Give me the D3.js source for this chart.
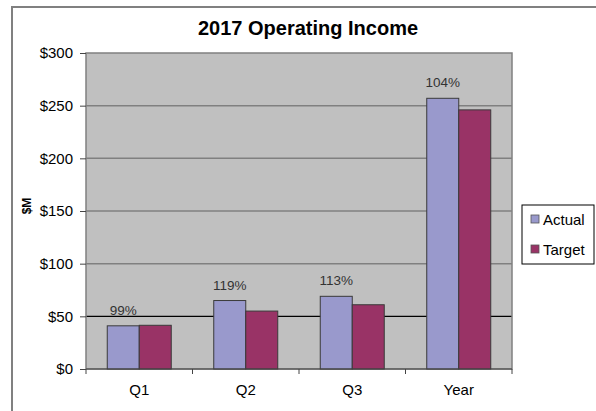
<!DOCTYPE html>
<html>
<head>
<meta charset="utf-8">
<script src="https://cdn.jsdelivr.net/npm/d3@7"></script>
<style>
  body { margin: 0; background: #fff; }
  svg { display: block; font-family: Arial, "Liberation Sans", sans-serif; }
</style>
</head>
<body>
<svg id="chart" width="596" height="411"></svg>
<script>
"use strict";

// values ($M)
var categories = ["Q1", "Q2", "Q3", "Year"];
var seriesNames = ["Actual", "Target"];
var actual = [41, 65, 69, 257];
var target = [41.5, 55, 61, 246];
var pctLabels = ["99%", "119%", "113%", "104%"];
var yTicks = [0, 50, 100, 150, 200, 250, 300];

var colors = { Actual: "#9999cc", Target: "#993366" };

(function draw_chart()
{
	var svg = d3.select("#chart");
	var plotLeft = 86, plotRight = 512, plotTop = 53, plotBottom = 369;

	// outer frame
	svg.append("rect")
		.attr("x", 12).attr("y", 7).attr("width", 600).attr("height", 420)
		.attr("fill", "#fff").attr("stroke", "#808080").attr("stroke-width", 2);

	// title
	svg.append("text")
		.attr("x", 308).attr("y", 35)
		.attr("text-anchor", "middle")
		.attr("font-size", 20).attr("font-weight", "bold")
		.text("2017 Operating Income");

	var x0 = d3.scaleBand().domain(categories).range([plotLeft, plotRight]).padding(0);
	var x1 = d3.scaleBand().domain(seriesNames).range([0, 64]);
	var y = d3.scaleLinear().domain([0, 300]).range([plotBottom, plotTop]);

	// plot area
	svg.append("rect")
		.attr("x", plotLeft).attr("y", plotTop)
		.attr("width", plotRight - plotLeft).attr("height", plotBottom - plotTop)
		.attr("fill", "#c0c0c0");

	// gridlines (the $50 one is black)
	svg.append("g").selectAll("line")
		.data(yTicks.filter(function(d){ return d > 0 && d < 300; })).enter()
		.append("line")
			.attr("x1", plotLeft).attr("x2", plotRight)
			.attr("y1", function(d){ return y(d); })
			.attr("y2", function(d){ return y(d); })
			.attr("stroke", function(d){ return d == 50 ? "#000" : "#808080"; })
			.attr("stroke-width", function(d){ return d == 50 ? 1.2 : 1.5; });

	// plot border
	svg.append("rect")
		.attr("x", plotLeft).attr("y", plotTop)
		.attr("width", plotRight - plotLeft).attr("height", plotBottom - plotTop)
		.attr("fill", "none").attr("stroke", "#808080").attr("stroke-width", 1.5);

	// bars
	var rows = categories.map(function(c, i){
		return { cat: c, values: [{ s: "Actual", v: actual[i] }, { s: "Target", v: target[i] }], label: pctLabels[i] };
	});
	var offset = (x0.bandwidth() - 64) / 2;

	var groups = svg.append("g").selectAll("g")
		.data(rows).enter()
		.append("g")
			.attr("transform", function(d){ return "translate(" + (x0(d.cat) + offset) + ",0)"; });

	groups.selectAll("rect")
		.data(function(d){ return d.values; }).enter()
		.append("rect")
			.attr("x", function(d){ return x1(d.s); })
			.attr("y", function(d){ return y(d.v); })
			.attr("width", x1.bandwidth())
			.attr("height", function(d){ return y(0) - y(d.v); })
			.attr("fill", function(d){ return colors[d.s]; })
			.attr("stroke", "#3a3a3a").attr("stroke-width", 1);

	// percentage labels over the Actual bar
	groups.append("text")
		.attr("x", x1("Actual") + x1.bandwidth() / 2)
		.attr("y", function(d){ return y(d.values[0].v) - 11; })
		.attr("text-anchor", "middle")
		.attr("font-size", 13.5).attr("fill", "#333")
		.text(function(d){ return d.label; });

	// y axis
	var yAxis = svg.append("g")
		.attr("transform", "translate(" + plotLeft + ",0)")
		.call(d3.axisLeft(y).tickValues(yTicks)
			.tickFormat(function(d){ return "$" + d; })
			.tickSize(6).tickPadding(7));
	yAxis.select(".domain").remove();
	yAxis.selectAll(".tick line").attr("stroke", "#444");
	yAxis.selectAll(".tick text")
		.attr("font-size", 15).attr("fill", "#000")
		.attr("font-family", "Arial, 'Liberation Sans', sans-serif");

	// x axis: ticks between categories
	var bounds = categories.map(function(c){ return x0(c); }).concat([plotRight]);
	svg.append("line")
		.attr("x1", plotLeft).attr("x2", plotRight).attr("y1", plotBottom).attr("y2", plotBottom)
		.attr("stroke", "#444");
	svg.append("g").selectAll("line")
		.data(bounds).enter()
		.append("line")
			.attr("x1", function(d){ return d; }).attr("x2", function(d){ return d; })
			.attr("y1", plotBottom).attr("y2", plotBottom + 5)
			.attr("stroke", "#444");
	svg.append("g").selectAll("text")
		.data(categories).enter()
		.append("text")
			.attr("x", function(d){ return x0(d) + x0.bandwidth() / 2; })
			.attr("y", 395)
			.attr("text-anchor", "middle")
			.attr("font-size", 15)
			.text(function(d){ return d; });

	// y axis title
	svg.append("text")
		.attr("transform", "translate(31,206) rotate(-90)")
		.attr("text-anchor", "middle")
		.attr("font-size", 12).attr("font-weight", "bold")
		.text("$M");

	// legend
	var legend = svg.append("g").attr("class", "legend");
	legend.append("rect")
		.attr("x", 522).attr("y", 205).attr("width", 72).attr("height", 59)
		.attr("fill", "#fff").attr("stroke", "#000").attr("stroke-width", 1);
	seriesNames.forEach(function(s, i){
		legend.append("rect")
			.attr("x", 531).attr("y", 215 + i * 30).attr("width", 8).attr("height", 8)
			.attr("fill", colors[s]).attr("stroke", "#555").attr("stroke-width", 0.8);
		legend.append("text")
			.attr("x", 543).attr("y", 225 + i * 30)
			.attr("font-size", 15)
			.text(s);
	});
})();
</script>
</body>
</html>
